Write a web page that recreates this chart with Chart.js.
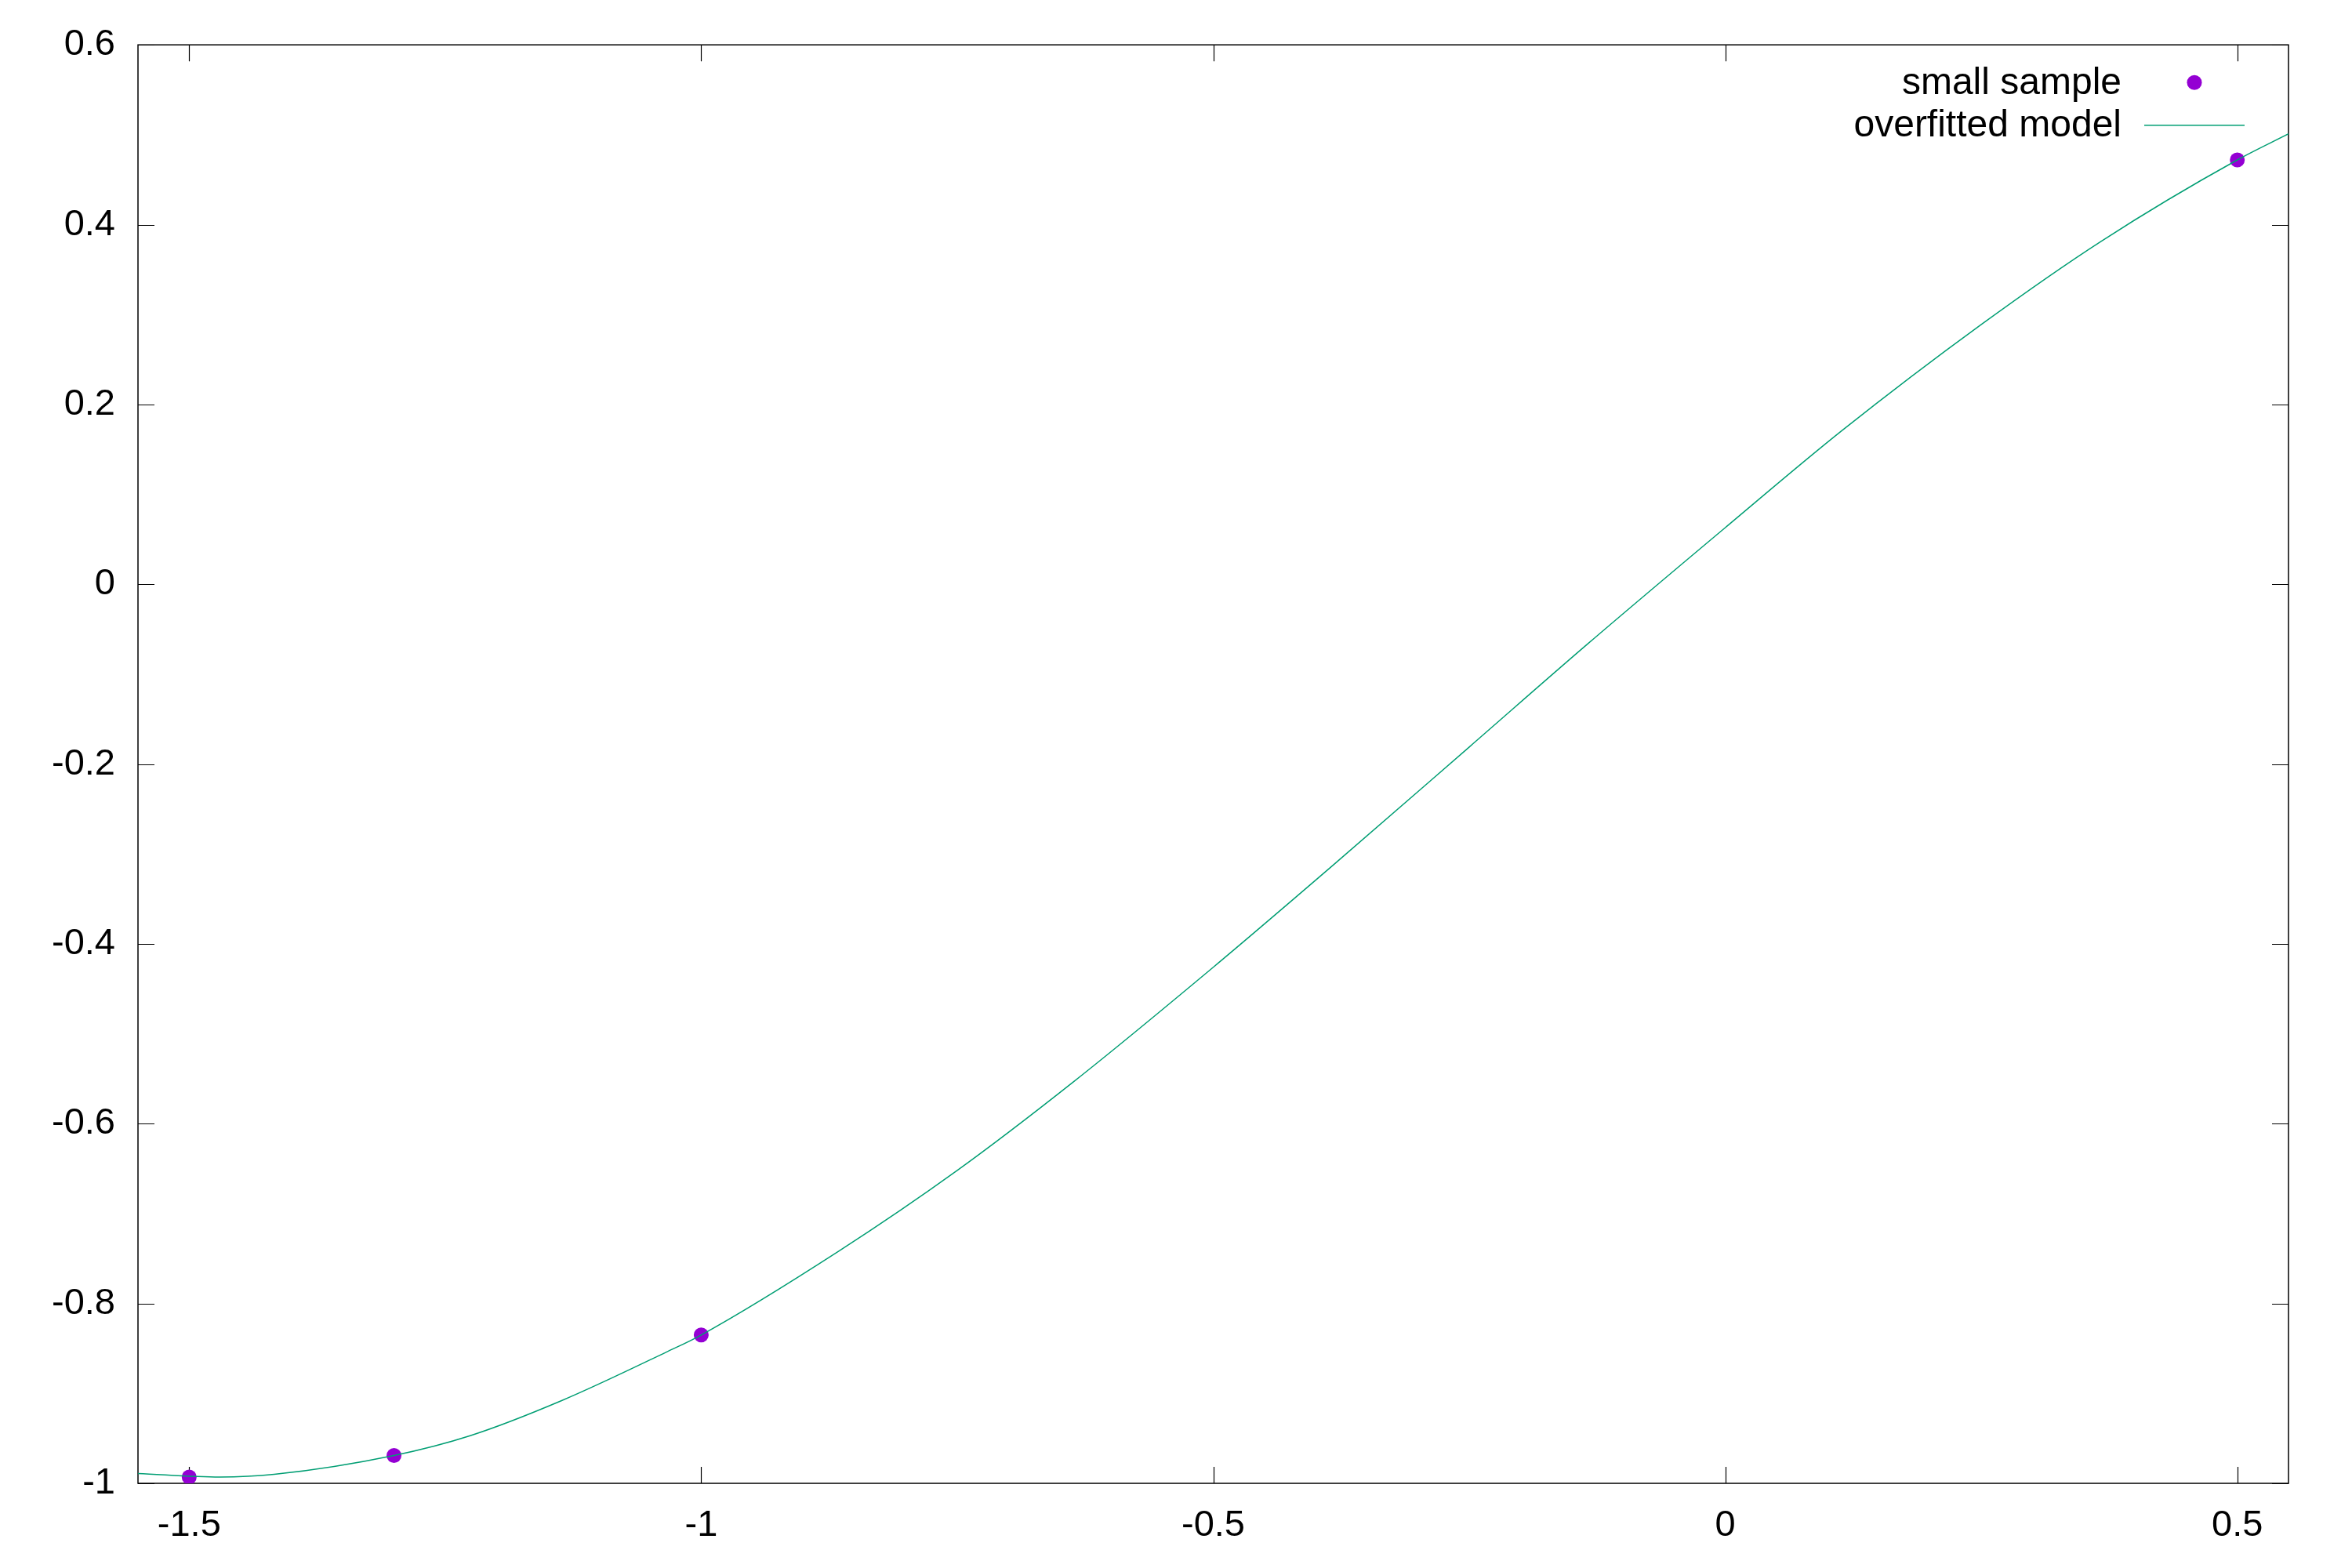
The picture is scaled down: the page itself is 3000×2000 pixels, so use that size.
<!DOCTYPE html>
<html>
<head>
<meta charset="utf-8">
<script src="https://cdn.jsdelivr.net/npm/chart.js@4/dist/chart.umd.min.js"></script>
<style>
  html, body { margin: 0; padding: 0; background: #ffffff; }
  #wrap { width: 3000px; height: 2000px; }
</style>
</head>
<body>
<div id="wrap"><canvas id="c" width="3000" height="2000"></canvas></div>
<script>
// ---- data ----
const sampleX = [-1.5, -1.3, -1.0, 0.5];
const sampleY = [-0.993, -0.969, -0.835, 0.472];

const modelX = [-1.55, -1.47, -1.417, -1.3, -1.2256, -1.1363, -1.034, -1.0, -0.866, -0.75, -0.636, -0.5, -0.3835, -0.25, -0.134, 0.0, 0.114, 0.25, 0.367, 0.5, 0.55];
const modelY = [-0.989, -0.993, -0.990, -0.969, -0.947, -0.908, -0.854, -0.835, -0.742, -0.652, -0.553, -0.426, -0.313, -0.181, -0.066, 0.063, 0.171, 0.289, 0.3815, 0.472, 0.501];

const xTicks = [-1.5, -1, -0.5, 0, 0.5];
const xTickLabels = ['-1.5', '-1', '-0.5', '0', '0.5'];
const yTicks = [-1, -0.8, -0.6, -0.4, -0.2, 0, 0.2, 0.4, 0.6];
const yTickLabels = ['-1', '-0.8', '-0.6', '-0.4', '-0.2', '0', '0.2', '0.4', '0.6'];

const seriesLabels = ['small sample', 'overfitted model'];
const sampleColor = '#9400d3';
const modelColor = '#009e73';

const FONT = '"Liberation Sans", Arial, sans-serif';
const FSIZE = 47;
const KEYSIZE = 48;

function labelFor(list, labels, v) {
  for (let i = 0; i < list.length; i++) {
    if (Math.abs(list[i] - v) < 1e-6) return labels[i];
  }
  return '';
}

// frame, inward ticks on all four sides (gnuplot style)
const framePlugin = {
  id: 'frame',
  beforeDatasetsDraw(chart) {
    const { ctx, chartArea: a, scales } = chart;
    const tl = 21;
    ctx.save();
    ctx.strokeStyle = '#000000';
    ctx.lineWidth = 1.2;
    ctx.beginPath();
    xTicks.forEach(v => {
      const px = Math.round(scales.x.getPixelForValue(v)) + 0.5;
      ctx.moveTo(px, a.bottom); ctx.lineTo(px, a.bottom - tl);
      ctx.moveTo(px, a.top); ctx.lineTo(px, a.top + tl);
    });
    yTicks.forEach(v => {
      const py = Math.round(scales.y.getPixelForValue(v)) + 0.5;
      ctx.moveTo(a.left, py); ctx.lineTo(a.left + tl, py);
      ctx.moveTo(a.right, py); ctx.lineTo(a.right - tl, py);
    });
    ctx.stroke();
    ctx.lineWidth = 1.5;
    ctx.strokeRect(a.left, a.top, a.right - a.left, a.bottom - a.top);
    ctx.restore();
  }
};

// key in the top-right corner: text right-aligned, sample to the right
const keyPlugin = {
  id: 'key',
  afterDraw(chart) {
    const { ctx, chartArea: a } = chart;
    const textRight = a.right - 213;
    const symCenter = a.right - 120;
    const row0 = a.top + 48;
    const rowH = 54;
    ctx.save();
    ctx.font = KEYSIZE + 'px ' + FONT;
    ctx.fillStyle = '#000000';
    ctx.textAlign = 'right';
    ctx.textBaseline = 'middle';
    ctx.fillText(seriesLabels[0], textRight, row0 + 2);
    ctx.fillText(seriesLabels[1], textRight, row0 + rowH + 2);
    ctx.fillStyle = sampleColor;
    ctx.beginPath();
    ctx.arc(symCenter, row0, 9.5, 0, Math.PI * 2);
    ctx.fill();
    ctx.strokeStyle = modelColor;
    ctx.lineWidth = 1.5;
    ctx.beginPath();
    ctx.moveTo(symCenter - 64, row0 + rowH + 0.5);
    ctx.lineTo(symCenter + 64, row0 + rowH + 0.5);
    ctx.stroke();
    ctx.restore();
  }
};

const modelData = modelX.map((x, i) => ({ x: x, y: modelY[i] }));
const sampleData = sampleX.map((x, i) => ({ x: x, y: sampleY[i] }));

new Chart(document.getElementById('c'), {
  type: 'scatter',
  data: {
    datasets: [
      {
        label: seriesLabels[1],
        data: modelData,
        showLine: true,
        borderColor: modelColor,
        borderWidth: 1.5,
        pointRadius: 0,
        pointHoverRadius: 0,
        cubicInterpolationMode: 'monotone',
        fill: false,
        order: 0
      },
      {
        label: seriesLabels[0],
        data: sampleData,
        showLine: false,
        backgroundColor: sampleColor,
        borderColor: sampleColor,
        borderWidth: 0,
        pointRadius: 9.5,
        pointHoverRadius: 9.5,
        order: 1
      }
    ]
  },
  options: {
    responsive: false,
    animation: false,
    devicePixelRatio: 1,
    layout: { padding: { top: 54, right: 81, left: 0, bottom: 0 } },
    plugins: {
      legend: { display: false },
      tooltip: { enabled: false }
    },
    scales: {
      x: {
        type: 'linear',
        min: -1.55,
        max: 0.55,
        afterFit(s) { s.height = 108; },
        afterBuildTicks(s) { s.ticks = xTicks.map(v => ({ value: v })); },
        grid: { display: false, drawTicks: false },
        border: { display: false },
        ticks: {
          padding: 26,
          color: '#000000',
          font: { family: FONT, size: FSIZE },
          maxRotation: 0,
          autoSkip: false,
          callback: v => labelFor(xTicks, xTickLabels, v)
        }
      },
      y: {
        type: 'linear',
        min: -1,
        max: 0.6,
        afterFit(s) { s.width = 176; },
        afterBuildTicks(s) { s.ticks = yTicks.map(v => ({ value: v })); },
        grid: { display: false, drawTicks: false },
        border: { display: false },
        ticks: {
          padding: 29,
          color: '#000000',
          font: { family: FONT, size: FSIZE },
          autoSkip: false,
          callback: v => labelFor(yTicks, yTickLabels, v)
        }
      }
    }
  },
  plugins: [framePlugin, keyPlugin]
});
</script>
</body>
</html>
